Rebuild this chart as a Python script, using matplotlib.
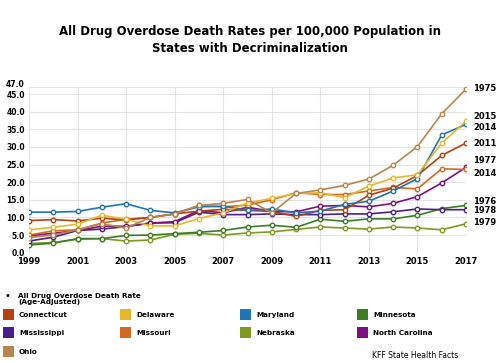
import matplotlib
matplotlib.use("Agg")
import matplotlib.pyplot as plt
import matplotlib.transforms as mtransforms
from matplotlib.patches import Rectangle

# ── data ─────────────────────────────────────────────────────────────────
years = list(range(1999, 2018))

states = ["Connecticut", "Delaware", "Maryland", "Minnesota",
          "Mississippi", "Missouri", "Nebraska", "North Carolina", "Ohio"]

colors = {
    "Connecticut":    "#b5410f",
    "Delaware":       "#e6b72b",
    "Maryland":       "#1f74b5",
    "Minnesota":      "#3b7d23",
    "Mississippi":    "#4a1f8c",
    "Missouri":       "#d2691e",
    "Nebraska":       "#7f9a1f",
    "North Carolina": "#7f1080",
    "Ohio":           "#b9854c",
}

connecticut = [9.1, 9.4, 9.0, 9.8, 9.3, 10.0, 11.0, 11.8, 12.3, 12.0, 11.7, 10.3, 12.0, 12.2, 16.3, 18.3, 21.9, 27.6, 31.1]
delaware    = [6.5, 7.2, 8.1, 10.6, 9.5, 7.6, 7.6, 9.7, 11.3, 14.1, 15.4, 16.8, 17.0, 15.6, 18.9, 21.2, 22.1, 31.1, 37.3]
maryland    = [11.5, 11.5, 11.7, 12.9, 13.9, 12.0, 11.3, 13.0, 13.2, 12.0, 12.4, 11.3, 11.8, 13.7, 14.6, 17.5, 21.0, 33.4, 36.4]
minnesota   = [2.2, 2.7, 4.0, 4.0, 4.9, 5.0, 5.4, 5.8, 6.3, 7.3, 7.8, 7.2, 9.5, 8.9, 9.6, 9.6, 10.6, 12.5, 13.4]
mississippi = [3.3, 4.4, 6.3, 6.7, 7.4, 8.4, 8.5, 11.5, 10.8, 10.8, 11.0, 10.8, 10.8, 11.0, 11.0, 11.6, 12.4, 12.2, 12.2]
missouri    = [5.0, 6.2, 6.5, 8.4, 9.5, 10.0, 11.0, 13.4, 13.0, 13.5, 15.0, 17.0, 16.5, 16.5, 17.5, 18.5, 18.1, 23.8, 23.6]
nebraska    = [2.6, 2.9, 3.8, 4.0, 3.3, 3.6, 5.2, 5.5, 5.0, 5.6, 5.9, 6.6, 7.3, 7.0, 6.7, 7.3, 7.0, 6.5, 8.2]
n_carolina  = [4.8, 5.5, 6.3, 7.5, 7.5, 8.4, 8.8, 12.0, 11.3, 12.9, 11.7, 11.6, 13.2, 13.4, 13.0, 14.0, 15.9, 19.8, 24.2]
ohio        = [4.3, 5.0, 6.5, 8.2, 7.0, 10.0, 11.0, 13.4, 14.0, 15.1, 11.3, 16.8, 17.8, 19.1, 20.9, 24.8, 30.1, 39.4, 46.4]

series = {
    "Connecticut": connecticut, "Delaware": delaware, "Maryland": maryland,
    "Minnesota": minnesota, "Mississippi": mississippi, "Missouri": missouri,
    "Nebraska": nebraska, "North Carolina": n_carolina, "Ohio": ohio,
}

# decriminalization years shown at the right edge
end_labels = ["1975", "2015", "2014", "2011", "1977", "2014", "1976", "1978", "1979"]
end_label_y = [46.5, 38.7, 35.4, 30.9, 26.1, 22.6, 14.6, 11.9, 8.5]

yticks = [0, 5, 10, 15, 20, 25, 30, 35, 40, 45, 47]
xticks = list(range(1999, 2018, 2))

# ── figure ───────────────────────────────────────────────────────────────
W, H = 500, 363
fig = plt.figure(figsize=(W / 100, H / 100), dpi=100)
fig.patch.set_facecolor("white")


def px(x, y):
    """pixel (from top-left) -> figure fraction"""
    return x / W, 1 - y / H


ax = fig.add_axes([29 / W, 1 - 252.7 / H, (466 - 29) / W, (252.7 - 87) / H])

draw_order = ["Nebraska", "Minnesota", "Mississippi", "North Carolina",
              "Missouri", "Connecticut", "Maryland", "Delaware", "Ohio"]
for s in draw_order:
    ax.plot(years, series[s], color=colors[s], linewidth=1.2,
            marker="o", markersize=3.2, markerfacecolor="white",
            markeredgecolor=colors[s], markeredgewidth=1.0, zorder=3)

ax.set_xlim(1999, 2017)
ax.set_ylim(0, 47)
ax.set_yticks(yticks)
ax.set_yticklabels([f"{v:.1f}" for v in yticks], fontsize=5.5, fontweight="bold")
ax.set_xticks(xticks)
ax.set_xticklabels([str(v) for v in xticks], fontsize=6, fontweight="bold")
ax.tick_params(length=0, pad=3)
ax.grid(True, color="#e3e3e3", linewidth=0.8)
ax.set_axisbelow(True)
for sp in ax.spines.values():
    sp.set_visible(False)

# nudge the top "47.0" label up a little so it does not sit on "45.0"
top_lab = ax.get_yticklabels()[-1]
top_lab.set_transform(top_lab.get_transform() +
                      mtransforms.ScaledTranslation(0, 2.5 / 72, fig.dpi_scale_trans))

for lab, yv in zip(end_labels, end_label_y):
    ax.text(2017.3, yv, lab, fontsize=6, fontweight="bold", va="center",
            ha="left", clip_on=False)

# ── title ────────────────────────────────────────────────────────────────
fig.text(*px(250, 40), "All Drug Overdose Death Rates per 100,000 Population in\n"
         "States with Decriminalization", ha="center", va="center",
         fontsize=8.5, fontweight="bold", linespacing=1.5)

# ── legend ───────────────────────────────────────────────────────────────
fig.text(*px(5, 296), "\u2022", fontsize=7, va="center", ha="left")
fig.text(*px(18, 299), "All Drug Overdose Death Rate\n(Age-Adjusted)",
         fontsize=5.2, fontweight="bold", va="center", ha="left", linespacing=1.1)

col_x = [3, 120, 240, 357]
row_y = [315, 333.3, 351.7]
for i, s in enumerate(states):
    r, c = divmod(i, 4)
    x0, y0 = col_x[c], row_y[r]
    fig.add_artist(Rectangle(px(x0, y0 + 5), 11 / W, 11 / H,
                             transform=fig.transFigure, facecolor=colors[s],
                             edgecolor="none"))
    fig.text(*px(x0 + 16, y0), s, fontsize=5.2, fontweight="bold",
             va="center", ha="left")

fig.text(*px(415, 356), "KFF State Health Facts", fontsize=5.5,
         ha="center", va="center")

fig.savefig("out.png", dpi=100, facecolor="white")
